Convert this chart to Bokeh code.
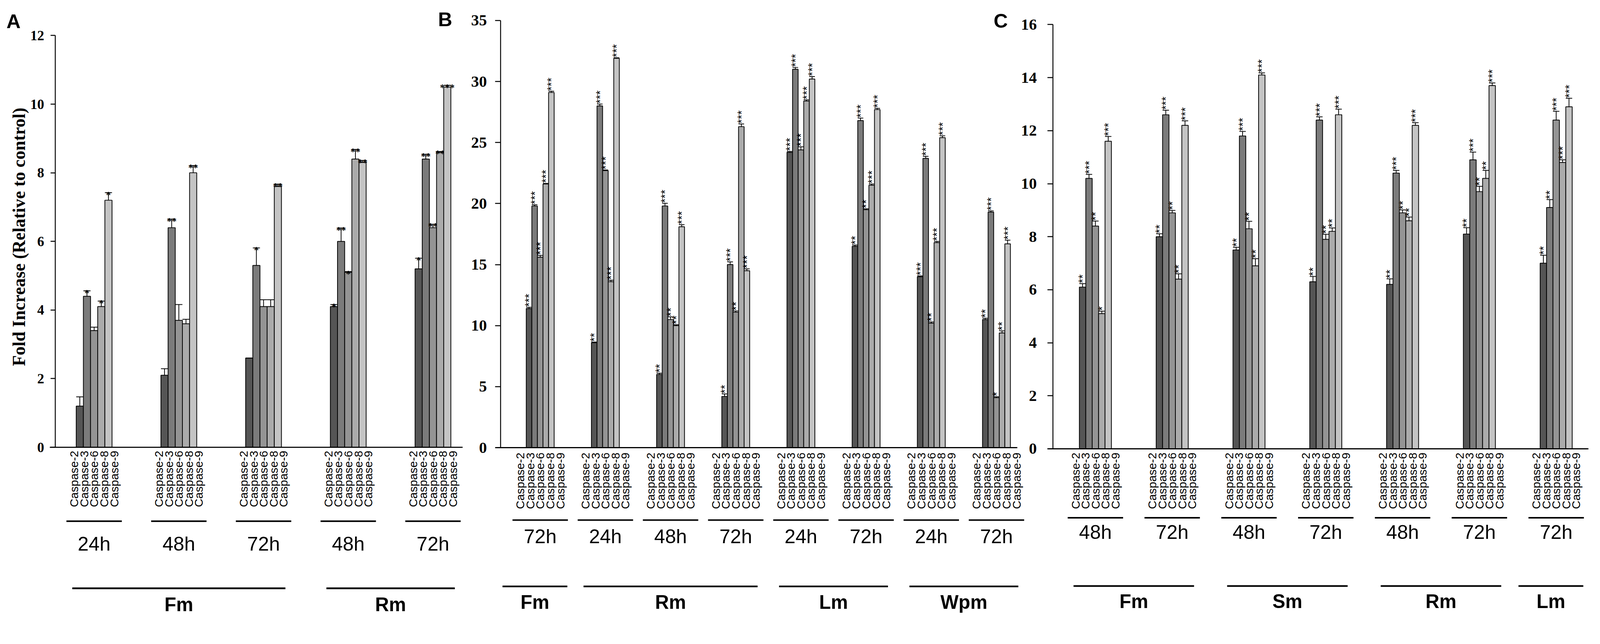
import math
from bokeh.plotting import figure
from bokeh.models import Range1d, FixedTicker, LinearAxis
from bokeh.core.properties import value
from bokeh.embed import file_html
from bokeh.resources import INLINE

# ---------------- data ----------------
CASPASES = ["Caspase-2", "Caspase-3", "Caspase-6", "Caspase-8", "Caspase-9"]
BAR_COLORS = ["#555555", "#7b7b7b", "#949494", "#ababab", "#c4c4c4"]

# Panel A
A_time = ["24h", "48h", "72h", "48h", "72h"]
A_tissue = ["Fm", "Fm", "Fm", "Rm", "Rm"]
A_casp2 = [1.2, 2.1, 2.6, 4.1, 5.2]
A_casp3 = [4.4, 6.4, 5.3, 6.0, 8.4]
A_casp6 = [3.4, 3.7, 4.1, 5.1, 6.4]
A_casp8 = [4.1, 3.6, 4.1, 8.4, 8.6]
A_casp9 = [7.2, 8.0, 7.6, 8.3, 10.5]
A_err2 = [0.27, 0.19, 0.0, 0.06, 0.31]
A_err3 = [0.16, 0.25, 0.51, 0.39, 0.14]
A_err6 = [0.10, 0.46, 0.20, 0.02, 0.10]
A_err8 = [0.16, 0.13, 0.20, 0.28, 0.02]
A_err9 = [0.22, 0.21, 0.07, 0.06, 0.05]
A_sig2 = ["", "", "", "*", "*"]
A_sig3 = ["*", "**", "*", "**", "**"]
A_sig6 = ["", "", "", "*", "**"]
A_sig8 = ["*", "", "", "**", "**"]
A_sig9 = ["*", "**", "**", "**", "***"]
A_yticks = [0, 2, 4, 6, 8, 10, 12]

# Panel B
B_time = ["72h", "24h", "48h", "72h", "24h", "72h", "24h", "72h"]
B_tissue = ["Fm", "Rm", "Rm", "Rm", "Lm", "Lm", "Wpm", "Wpm"]
B_casp2 = [11.4, 8.6, 6.0, 4.2, 24.2, 16.5, 14.0, 10.5]
B_casp3 = [19.8, 28.0, 19.8, 15.0, 31.0, 26.8, 23.7, 19.3]
B_casp6 = [15.6, 22.7, 10.5, 11.1, 24.4, 19.5, 10.2, 4.1]
B_casp8 = [21.6, 13.6, 10.0, 26.3, 28.4, 21.5, 16.8, 9.4]
B_casp9 = [29.1, 31.9, 18.1, 14.5, 30.2, 27.7, 25.4, 16.7]
B_err2 = [0.10, 0.05, 0.10, 0.20, 0.07, 0.10, 0.07, 0.10]
B_err3 = [0.10, 0.15, 0.22, 0.22, 0.15, 0.20, 0.17, 0.10]
B_err6 = [0.15, 0.05, 0.22, 0.10, 0.25, 0.07, 0.10, 0.07]
B_err8 = [0.05, 0.12, 0.07, 0.22, 0.10, 0.10, 0.10, 0.17]
B_err9 = [0.10, 0.05, 0.17, 0.15, 0.20, 0.10, 0.15, 0.30]
B_sig2 = ["***", "**", "**", "**", "***", "**", "***", "**"]
B_sig3 = ["***", "***", "***", "***", "***", "***", "***", "***"]
B_sig6 = ["***", "***", "**", "**", "***", "**", "**", "*"]
B_sig8 = ["***", "***", "**", "***", "***", "***", "***", "**"]
B_sig9 = ["***", "***", "***", "***", "***", "***", "***", "***"]
B_yticks = [0, 5, 10, 15, 20, 25, 30, 35]

# Panel C
C_time = ["48h", "72h", "48h", "72h", "48h", "72h", "72h"]
C_tissue = ["Fm", "Fm", "Sm", "Sm", "Rm", "Rm", "Lm"]
C_casp2 = [6.1, 8.0, 7.5, 6.3, 6.2, 8.1, 7.0]
C_casp3 = [10.2, 12.6, 11.8, 12.4, 10.4, 10.9, 9.1]
C_casp6 = [8.4, 8.9, 8.3, 7.9, 8.9, 9.7, 12.4]
C_casp8 = [5.1, 6.4, 6.9, 8.2, 8.6, 10.2, 10.8]
C_casp9 = [11.6, 12.2, 14.1, 12.6, 12.2, 13.7, 12.9]
C_err2 = [0.13, 0.11, 0.10, 0.20, 0.21, 0.24, 0.30]
C_err3 = [0.15, 0.17, 0.17, 0.12, 0.10, 0.29, 0.30]
C_err6 = [0.19, 0.09, 0.28, 0.19, 0.11, 0.20, 0.33]
C_err8 = [0.09, 0.20, 0.27, 0.13, 0.14, 0.30, 0.10]
C_err9 = [0.18, 0.17, 0.08, 0.21, 0.10, 0.10, 0.32]
C_sig2 = ["**", "**", "**", "**", "**", "**", "**"]
C_sig3 = ["***", "***", "***", "***", "***", "***", "**"]
C_sig6 = ["**", "**", "**", "**", "**", "**", "***"]
C_sig8 = ["*", "**", "**", "**", "**", "**", "***"]
C_sig9 = ["***", "***", "***", "***", "***", "***", "***"]
C_yticks = [0, 2, 4, 6, 8, 10, 12, 14, 16]

Y_TITLE = "Fold Increase (Relative to control)"
PANEL_LETTERS = ["A", "B", "C"]

# ---------------- layout ----------------
# Layout constants below are in picture pixels of the 4245x1648 target; they are
# converted to CSS pixels with scale S so that the whole page fits the viewport.
S = 4096 / 4245
MARGIN = 8
W, H = 4080, 1574

LAY_A = dict(name="A", axis=154, g0=257.5, ppg=224.75, base=1194, ppu=91.0,
             bar_px=19, lab_top=9, under=196, time=256, cat_line=374, cat_lab=417,
             tick_font=37, tick_out=12, standoff=17, axis_pad=0.35, letter=(25, 65))
LAY_B = dict(name="B", axis=1336, g0=1441, ppg=172.93, base=1195, ppu=32.37,
             bar_px=14.8, lab_top=13, under=192, time=236, cat_line=368, cat_lab=409,
             tick_font=42, tick_out=15, standoff=22, axis_pad=0.32, letter=(1170, 60))
LAY_C = dict(name="C", axis=2801, g0=2914, ppg=203.75, base=1198, ppu=70.3125,
             bar_px=17, lab_top=10, under=183, time=221, cat_line=364, cat_lab=404,
             tick_font=42, tick_out=14, standoff=28, axis_pad=0.42, letter=(2644, 64))

LABEL_SPACING_PX = 26.5
UNDER_HALF_PX = 73.5
AXIS_OVERHANG_PX = 14


def fs(px):
    return "%.1fpx" % (px * S)


def lw(px):
    return px * S


def cx(X):  # target x -> default-range units (canvas px)
    return X * S - MARGIN


def cy(Y):  # target y (down) -> default-range units (up)
    return H - (Y * S - MARGIN)


def tissue_runs(tissues):
    out, start = [], 0
    for k in range(1, len(tissues) + 1):
        if k == len(tissues) or tissues[k] != tissues[start]:
            out.append((tissues[start], start, k - 1))
            start = k
    return out


p = figure(width=W, height=H, x_range=Range1d(0, W), y_range=Range1d(0, H),
           x_axis_type=None, y_axis_type=None, toolbar_location=None, output_backend="svg",
           min_border=0, min_border_left=0, min_border_right=0, min_border_top=0,
           min_border_bottom=0)
p.outline_line_color = None
p.background_fill_color = "white"
p.border_fill_color = "white"

extra_x, extra_y = {}, {}
for L in (LAY_A, LAY_B, LAY_C):
    c0 = cx(L["g0"])
    ppg_c = L["ppg"] * S
    extra_x["x" + L["name"]] = Range1d(-c0 / ppg_c, (W - c0) / ppg_c)
    b = L["base"] * S - MARGIN
    ppu_c = L["ppu"] * S
    extra_y["y" + L["name"]] = Range1d((b - H) / ppu_c, b / ppu_c)
p.extra_x_ranges = extra_x
p.extra_y_ranges = extra_y


def build_panel(L, times, tissues, values, errors, sigs, yticks, rotated_stars):
    n = len(times)
    ppg, ppu = L["ppg"], L["ppu"]
    rn = dict(x_range_name="x" + L["name"], y_range_name="y" + L["name"])

    ax = LinearAxis(y_range_name="y" + L["name"], fixed_location=cx(L["axis"]),
                    ticker=FixedTicker(ticks=yticks, minor_ticks=[]),
                    bounds=(yticks[0], yticks[-1]))
    ax.axis_line_width = lw(2.5)
    ax.axis_line_color = "black"
    ax.major_tick_line_width = lw(2.5)
    ax.major_tick_line_color = "black"
    ax.major_tick_out = round(L["tick_out"] * S)
    ax.major_tick_in = 0
    ax.minor_tick_line_color = None
    ax.major_label_text_font = "Liberation Serif"
    ax.major_label_text_font_style = "bold"
    ax.major_label_text_font_size = fs(L["tick_font"])
    ax.major_label_text_color = "black"
    ax.major_label_standoff = round(L["standoff"] * S)
    p.add_layout(ax, "left")

    def below(d):
        return -d / ppu

    groups = list(range(n))
    bw = L["bar_px"] / ppg
    for i in range(5):
        xs = [g + (i - 2) * bw for g in groups]
        tops = [v + e for v, e in zip(values[i], errors[i])]
        p.vbar(x=xs, top=values[i], bottom=0, width=bw, fill_color=BAR_COLORS[i],
               line_color="black", line_width=lw(2), **rn)
        p.segment(x0=xs, y0=values[i], x1=xs, y1=tops, line_color="black",
                  line_width=lw(2), **rn)
        p.segment(x0=[x - bw / 2 for x in xs], y0=tops, x1=[x + bw / 2 for x in xs], y1=tops,
                  line_color="black", line_width=lw(2), **rn)
        if rotated_stars:
            p.text(x=xs, y=tops, text=sigs[i], angle=math.pi / 2, text_align="left",
                   text_baseline="middle", text_font=value("Liberation Sans"),
                   text_font_size=fs(30), text_color="black", y_offset=-1, **rn)
        else:
            p.text(x=xs, y=tops, text=sigs[i], text_align="center", text_baseline="alphabetic",
                   text_font=value("Liberation Serif"), text_font_style="bold",
                   text_font_size=fs(26), text_color="black", y_offset=6, **rn)

    # baseline (x axis line)
    x_left = (L["axis"] - AXIS_OVERHANG_PX - L["g0"]) / ppg
    p.segment(x0=[x_left], y0=[0], x1=[n - 1 + L["axis_pad"]], y1=[0],
              line_color="black", line_width=lw(3), **rn)

    # caspase tick labels
    lsp = LABEL_SPACING_PX / ppg
    lx = [g + (j - 2) * lsp for g in groups for j in range(5)]
    lt = [CASPASES[j] for g in groups for j in range(5)]
    p.text(x=lx, y=[below(L["lab_top"])] * len(lx), text=lt, angle=math.pi / 2,
           text_align="right", text_baseline="middle", text_font=value("Liberation Sans"),
           text_font_size=fs(31), text_color="black", **rn)

    # time underlines and labels
    uh = UNDER_HALF_PX / ppg
    p.segment(x0=[g - uh for g in groups], y0=[below(L["under"])] * n,
              x1=[g + uh for g in groups], y1=[below(L["under"])] * n,
              line_color="black", line_width=lw(4), **rn)
    p.text(x=groups, y=[below(L["time"])] * n, text=times, text_align="center",
           text_baseline="middle", text_font=value("Liberation Sans"),
           text_font_size=fs(52), text_color="black", **rn)

    # tissue lines and labels
    cx0, cx1, cnames = [], [], []
    for name, a, b in tissue_runs(tissues):
        if a == b:
            x0, x1 = a - 100 / ppg, b + 72 / ppg
        else:
            x0, x1 = a - 58 / ppg, b + 58 / ppg
        cx0.append(x0)
        cx1.append(x1)
        cnames.append(name)
    m = len(cnames)
    p.segment(x0=cx0, y0=[below(L["cat_line"])] * m, x1=cx1, y1=[below(L["cat_line"])] * m,
              line_color="black", line_width=lw(4.5), **rn)
    p.text(x=[(a + b) / 2 for a, b in zip(cx0, cx1)], y=[below(L["cat_lab"])] * m, text=cnames,
           text_align="center", text_baseline="middle", text_font=value("Liberation Sans"),
           text_font_style="bold", text_font_size=fs(51), text_color="black", **rn)


build_panel(LAY_A, A_time, A_tissue,
            [A_casp2, A_casp3, A_casp6, A_casp8, A_casp9],
            [A_err2, A_err3, A_err6, A_err8, A_err9],
            [A_sig2, A_sig3, A_sig6, A_sig8, A_sig9], A_yticks, False)
build_panel(LAY_B, B_time, B_tissue,
            [B_casp2, B_casp3, B_casp6, B_casp8, B_casp9],
            [B_err2, B_err3, B_err6, B_err8, B_err9],
            [B_sig2, B_sig3, B_sig6, B_sig8, B_sig9], B_yticks, True)
build_panel(LAY_C, C_time, C_tissue,
            [C_casp2, C_casp3, C_casp6, C_casp8, C_casp9],
            [C_err2, C_err3, C_err6, C_err8, C_err9],
            [C_sig2, C_sig3, C_sig6, C_sig8, C_sig9], C_yticks, True)

# y-axis title of panel A
p.text(x=[cx(59)], y=[cy(636)], text=[Y_TITLE], angle=math.pi / 2, text_align="center",
       text_baseline="middle", text_font=value("Liberation Serif"), text_font_style="bold",
       text_font_size=fs(47), text_color="black")

# panel letters
p.text(x=[cx(L["letter"][0]) for L in (LAY_A, LAY_B, LAY_C)],
       y=[cy(L["letter"][1]) for L in (LAY_A, LAY_B, LAY_C)],
       text=PANEL_LETTERS, text_align="left", text_baseline="alphabetic",
       text_font=value("Liberation Sans"), text_font_style="bold", text_font_size=fs(52),
       text_color="black")

open("out.html", "w").write(file_html(p, INLINE))
